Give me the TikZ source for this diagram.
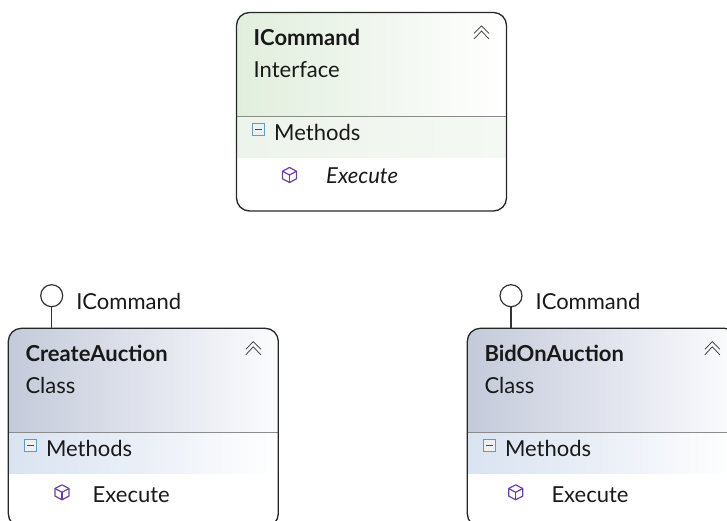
\documentclass[tikz,border=0pt]{standalone}
\usepackage{fontspec}
\setmainfont{Lato}
\usepackage{tikz}
\usetikzlibrary{shapes}
\definecolor{greenhead}{HTML}{E1EEDD}
\definecolor{greenband}{HTML}{EDF4EB}
\definecolor{greenend}{HTML}{F5F9F4}
\definecolor{bluehead}{HTML}{C4CADA}
\definecolor{blueband}{HTML}{DAE3F1}
\definecolor{blueend}{HTML}{FBFCFE}
\definecolor{cubepurple}{HTML}{6B3FA0}
\definecolor{minusblue}{HTML}{5F9CC5}
\tikzstyle{label}=[inner sep=0pt, anchor=base west, font=\fontsize{22}{26}\selectfont, text=black!90]
\tikzstyle{boxframe}=[rectangle, draw=black!85, line width=1.3pt, rounded corners=13pt, minimum width=270pt, minimum height=198.5pt, inner sep=0pt, outer sep=0pt, anchor=north west]
\tikzstyle{lolli}=[circle, draw=black!80, line width=1.2pt, fill=white, minimum size=22pt, inner sep=0pt, outer sep=0pt]
\tikzstyle{chevron}=[black!80, line width=.7pt]
\tikzstyle{cube}=[cubepurple, line width=1.2pt, line join=round]

\begin{document}
\begin{tikzpicture}[x=1pt, y=-1pt]
	\useasboundingbox (0,0) rectangle (727,521);
	\clip (0,0) rectangle (727,521);
	% the three boxes
	\foreach \x/\y/\boxname/\title/\kind/\headcol/\headend/\bandcol/\bandend/\cubedx/\cubedy/\execdx/\execdy/\execfont in {
		236.5/12.5/commandBox/ICommand/Interface/greenhead/white/greenband/greenend/53/162.5/89.5/170.8/\itshape,
		8.3/328.3/createBox/CreateAuction/Class/bluehead/blueend/blueband/white/53.7/164/84.2/174.2/\relax,
		467.3/328.3/bidBox/BidOnAuction/Class/bluehead/blueend/blueband/white/48.4/164/84/174.2/\relax}{
		\path[left color=\headcol, right color=\headend, middle color=\headcol!50!\headend, rounded corners=13pt] (\x,\y+104) -- (\x,\y) -- (\x+270,\y) [sharp corners] -- (\x+270,\y+104) -- cycle;
		\path[left color=\bandcol, right color=\bandend, middle color=\bandcol!55!\bandend] (\x,\y+104) rectangle (\x+270,\y+145.5);
		\draw[black!45, line width=.8pt] (\x,\y+104) -- (\x+270,\y+104);
		\node[boxframe] (\boxname) at (\x,\y) {};
		\node[label, font=\fontsize{22}{26}\selectfont\bfseries] (\boxname Title) at (\x+17,\y+32.8) {\title};
		\node[label] (\boxname Kind) at (\x+17,\y+65) {\kind};
		\node[label] (\boxname Methods) at (\x+37.5,\y+128.3) {Methods};
		\node[label, font=\fontsize{22}{26}\selectfont\execfont] (\boxname Execute) at (\x+\execdx,\y+\execdy) {Execute};
		% chevrons
		\draw[chevron] (\x+237.5,\y+21) -- (\x+245,\y+13.3) -- (\x+252.5,\y+21);
		\draw[chevron] (\x+237.5,\y+26.5) -- (\x+245,\y+18.5) -- (\x+252.5,\y+26.5);
		% minus square
		\draw[minusblue, fill=blue!4!black!6, line width=.9pt] (\x+15.8,\y+111) rectangle (\x+27.8,\y+122.8);
		\draw[black!70, line width=1pt] (\x+18.3,\y+117) -- (\x+25.3,\y+117);
		% cube
		\draw[cube] (\x+\cubedx,\y+\cubedy-7.5) -- (\x+\cubedx+7,\y+\cubedy-3.8) -- (\x+\cubedx+7,\y+\cubedy+3.8) -- (\x+\cubedx,\y+\cubedy+7.5) -- (\x+\cubedx-7,\y+\cubedy+3.8) -- (\x+\cubedx-7,\y+\cubedy-3.8) -- cycle;
		\draw[cube] (\x+\cubedx-7,\y+\cubedy-3.8) -- (\x+\cubedx,\y+\cubedy) -- (\x+\cubedx+7,\y+\cubedy-3.8);
		\draw[cube] (\x+\cubedx,\y+\cubedy) -- (\x+\cubedx,\y+\cubedy+7.5);
	}
	% lollipops on the two classes
	\foreach \x/\boxname in {51.7/createBox, 511/bidBox}{
		\node[lolli] (\boxname Lolli) at (\x,295.7) {};
		\draw[black!80, line width=1.2pt] (\boxname Lolli.south) -- (\boxname Lolli.south |- \boxname.north);
		\node[label] (\boxname Iface) at (\x+24.4,309) {ICommand};
	}
\end{tikzpicture}
\end{document}
